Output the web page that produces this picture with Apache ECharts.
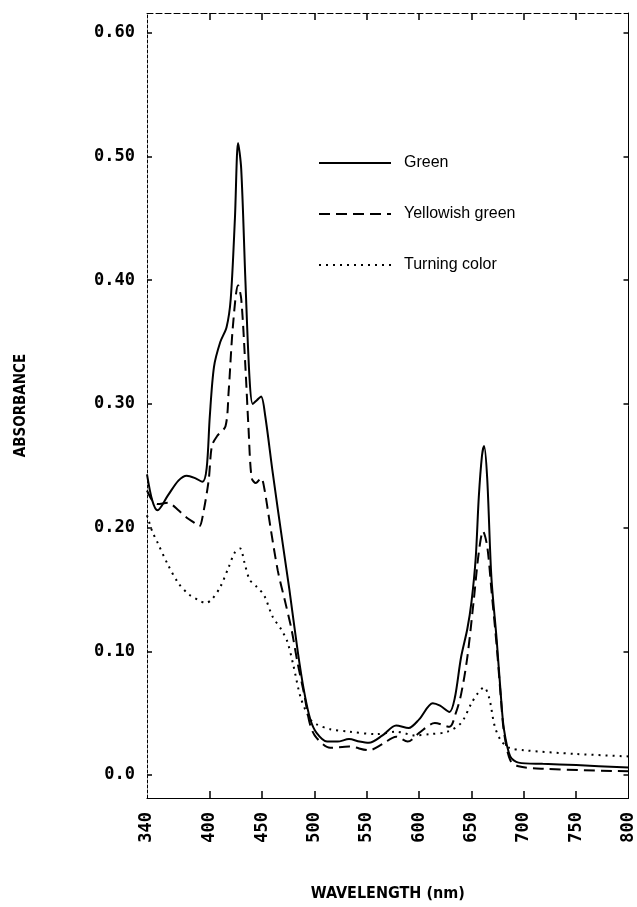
<!DOCTYPE html>
<html>
<head>
<meta charset="utf-8">
<title>Absorbance spectra</title>
<script src="https://cdn.jsdelivr.net/npm/echarts@6/dist/echarts.min.js"></script>
<style>
  html, body { margin: 0; padding: 0; background: #fff; }
  #chart { width: 637px; height: 907px; }
</style>
</head>
<body>
<div id="chart"></div>
<script>
// wavelength (nm) and absorbance
var greenWl = [340, 345, 350, 360, 370, 378, 386, 393, 397, 400, 404, 410, 416, 420, 424, 427, 430, 434, 438, 441, 445, 449, 453, 460, 470, 476, 484, 490, 496, 502, 512, 522, 533, 543, 552, 565, 578, 590, 600, 613, 620, 629, 634, 640, 646, 650, 654, 657, 660, 662, 665, 669, 674, 678, 681, 687, 695, 718, 750, 800]
var greenAbs = [0.243, 0.222, 0.214, 0.226, 0.238, 0.242, 0.240, 0.237, 0.248, 0.290, 0.330, 0.350, 0.362, 0.385, 0.450, 0.511, 0.490, 0.400, 0.320, 0.300, 0.303, 0.306, 0.290, 0.245, 0.185, 0.150, 0.100, 0.068, 0.045, 0.034, 0.027, 0.027, 0.029, 0.027, 0.026, 0.032, 0.040, 0.038, 0.045, 0.058, 0.056, 0.051, 0.062, 0.095, 0.118, 0.140, 0.175, 0.225, 0.258, 0.266, 0.240, 0.160, 0.110, 0.065, 0.037, 0.015, 0.010, 0.009, 0.008, 0.006]

var yellowWl = [340, 345, 350, 360, 370, 378, 385, 390, 394, 399, 402, 407, 415, 418, 422, 427, 430, 434, 437, 440, 444, 449, 452, 458, 465, 472, 478, 484, 490, 496, 502, 515, 533, 552, 565, 578, 589, 600, 615, 629, 635, 640, 646, 652, 657, 661, 665, 669, 674, 678, 681, 687, 695, 718, 800]
var yellowAbs = [0.230, 0.222, 0.219, 0.220, 0.214, 0.208, 0.204, 0.201, 0.213, 0.239, 0.266, 0.274, 0.282, 0.310, 0.362, 0.396, 0.385, 0.330, 0.280, 0.240, 0.236, 0.240, 0.232, 0.200, 0.165, 0.140, 0.118, 0.090, 0.066, 0.040, 0.030, 0.022, 0.023, 0.020, 0.025, 0.031, 0.027, 0.034, 0.042, 0.039, 0.050, 0.065, 0.095, 0.140, 0.180, 0.197, 0.185, 0.150, 0.105, 0.063, 0.035, 0.012, 0.007, 0.005, 0.003]

var turningWl = [340, 345, 350, 360, 370, 380, 390, 396, 402, 410, 418, 424, 429, 433, 438, 445, 452, 460, 468, 474, 480, 487, 496, 502, 515, 533, 559, 578, 596, 610, 627, 640, 650, 656, 662, 667, 672, 678, 686, 700, 750, 800]
var turningAbs = [0.210, 0.197, 0.188, 0.170, 0.155, 0.146, 0.141, 0.139, 0.142, 0.152, 0.168, 0.180, 0.183, 0.172, 0.158, 0.152, 0.145, 0.128, 0.118, 0.108, 0.088, 0.062, 0.045, 0.041, 0.037, 0.035, 0.033, 0.035, 0.032, 0.033, 0.035, 0.042, 0.058, 0.066, 0.071, 0.062, 0.040, 0.028, 0.022, 0.020, 0.017, 0.015]

var seriesNames = ['Green', 'Yellowish green', 'Turning color']
var xLabels = [340, 400, 450, 500, 550, 600, 650, 700, 750, 800]
var xTicks = [400, 450, 500, 550, 600, 650, 700, 750]
var yTicks = [0, 0.1, 0.2, 0.3, 0.4, 0.5, 0.6]

function pairs(wl, abs) {
  return wl.map(function (w, i) { return [w, abs[i]] })
}

var chart = echarts.init(document.getElementById('chart'))

var labelFont = {
  fontFamily: 'DejaVu Sans Mono',
  fontWeight: 'bold',
  fontSize: 17,
  color: '#000'
}

var option = {
  backgroundColor: '#fff',
  animation: false,
  grid: { left: 147, right: 1, top: 13, bottom: 97 },
  legend: {
    orient: 'vertical',
    left: 313,
    top: 150,
    itemWidth: 72,
    itemHeight: 14,
    itemGap: 35,
    data: seriesNames,
    // hide the round marker line series put in their legend icon
    itemStyle: { color: 'rgba(0,0,0,0)', borderWidth: 0 },
    textStyle: {
      fontFamily: 'Liberation Sans',
      fontSize: 16,
      color: '#000',
      padding: [0, 0, 0, 8]
    }
  },
  xAxis: [
    {
      type: 'value',
      min: 340,
      max: 800,
      name: 'WAVELENGTH (nm)',
      nameLocation: 'middle',
      nameGap: 88,
      nameTextStyle: { fontFamily: 'DejaVu Sans Condensed', fontWeight: 'bold', fontSize: 16, color: '#000' },
      axisLine: { onZero: false, lineStyle: { color: '#000', width: 1.2 } },
      axisTick: { inside: true, length: 7, customValues: xTicks, lineStyle: { color: '#000', width: 1.5 } },
      axisLabel: Object.assign({ rotate: 90, margin: 14, customValues: xLabels }, labelFont),
      splitLine: { show: false }
    },
    {
      type: 'value',
      position: 'top',
      min: 340,
      max: 800,
      axisLine: { onZero: false, lineStyle: { color: '#000', width: 1, type: [6, 3] } },
      axisTick: { inside: true, length: 7, customValues: xTicks, lineStyle: { color: '#000', width: 1.5 } },
      axisLabel: { show: false },
      splitLine: { show: false }
    }
  ],
  yAxis: [
    {
      type: 'value',
      min: -0.0186,
      max: 0.616,
      name: 'ABSORBANCE',
      nameLocation: 'middle',
      nameRotate: 90,
      nameGap: 118,
      nameTextStyle: { fontFamily: 'DejaVu Sans Condensed', fontWeight: 'bold', fontSize: 15, color: '#000' },
      axisLine: { show: true, onZero: false, lineStyle: { color: '#000', width: 1, type: [3, 2] } },
      axisTick: { show: true, inside: true, length: 5, customValues: yTicks, lineStyle: { color: '#000', width: 1.5 } },
      axisLabel: Object.assign({
        margin: 12,
        customValues: yTicks,
        formatter: function (v) { return v === 0 ? '0.0' : v.toFixed(2) }
      }, labelFont),
      splitLine: { show: false }
    },
    {
      type: 'value',
      position: 'right',
      min: -0.0186,
      max: 0.616,
      axisLine: { show: true, onZero: false, lineStyle: { color: '#000', width: 1 } },
      axisTick: { show: true, inside: true, length: 5, customValues: yTicks, lineStyle: { color: '#000', width: 1.5 } },
      axisLabel: { show: false },
      splitLine: { show: false }
    }
  ],
  series: [
    {
      name: seriesNames[0],
      type: 'line',
      symbol: 'none',
      smooth: 0.3,
      lineStyle: { color: '#000', width: 2, type: 'solid' },
      itemStyle: { color: '#000' },
      data: pairs(greenWl, greenAbs)
    },
    {
      name: seriesNames[1],
      type: 'line',
      symbol: 'none',
      smooth: 0.3,
      lineStyle: { color: '#000', width: 2, type: [11, 6] },
      itemStyle: { color: '#000' },
      data: pairs(yellowWl, yellowAbs)
    },
    {
      name: seriesNames[2],
      type: 'line',
      symbol: 'none',
      smooth: 0.3,
      lineStyle: { color: '#000', width: 2, type: [2, 5] },
      itemStyle: { color: '#000' },
      data: pairs(turningWl, turningAbs)
    }
  ]
}

chart.setOption(option)
</script>
</body>
</html>
